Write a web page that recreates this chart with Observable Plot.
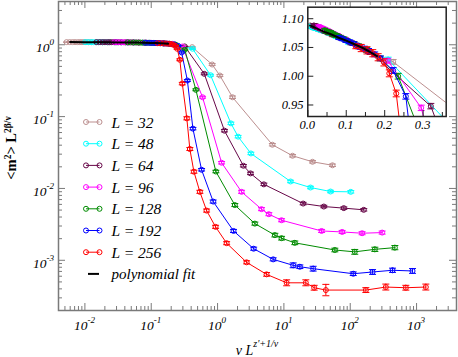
<!DOCTYPE html>
<html><head><meta charset="utf-8">
<script src="https://cdn.jsdelivr.net/npm/d3@7"></script>
<script src="https://cdn.jsdelivr.net/npm/@observablehq/plot@0.6"></script>
<style>
body{margin:0;background:#fff;}
#wrap{position:relative;width:458px;height:357px;overflow:hidden;font-family:"Liberation Serif",serif;}
#wrap svg{position:absolute;top:0;left:0;overflow:visible;}
</style></head><body><div id="wrap"></div>
<script>
// ---------- data: [x, y, relative error] ----------
const L32 = [[0.0053,1.088,0.003],[0.0059,1.088,0.003],[0.0065,1.088,0.003],[0.0071,1.088,0.003],[0.0078,1.087,0.003],[0.0084,1.087,0.003],[0.009,1.087,0.003],[0.0097,1.087,0.003],[0.0104,1.087,0.003],[0.0114,1.086,0.003],[0.0125,1.086,0.003],[0.0146,1.085,0.003],[0.016,1.085,0.003],[0.0186,1.084,0.003],[0.0228,1.083,0.003],[0.029,1.081,0.003],[0.039,1.079,0.003],[0.056,1.074,0.003],[0.11,1.058,0.003],[0.222,1.025,0.004],[0.414,0.926,0.02],[0.829,0.531,0.03],[1.083,0.373,0.03],[1.68,0.186,0.04],[6.7,0.0406,0.04],[13.5,0.0285,0.04],[27,0.0235,0.04],[54,0.021,0.04]];
const L48 = [[0.0101,1.087,0.003],[0.0112,1.087,0.003],[0.0124,1.086,0.003],[0.0135,1.086,0.003],[0.0148,1.085,0.003],[0.016,1.085,0.003],[0.0171,1.085,0.003],[0.0184,1.084,0.003],[0.0198,1.084,0.003],[0.0217,1.083,0.003],[0.0238,1.083,0.003],[0.0277,1.082,0.003],[0.0304,1.081,0.003],[0.0353,1.080,0.003],[0.0433,1.078,0.003],[0.055,1.075,0.003],[0.074,1.069,0.003],[0.106,1.059,0.003],[0.209,1.029,0.004],[0.42,0.88,0.02],[0.784,0.377,0.03],[1.59,0.0805,0.04],[2.04,0.0526,0.04],[3.18,0.0307,0.04],[12.6,0.0125,0.04],[25.2,0.0103,0.04],[50.5,0.00906,0.04],[102,0.00897,0.04]];
const L64 = [[0.015,1.088,0.003],[0.0168,1.088,0.003],[0.0185,1.087,0.003],[0.0202,1.087,0.003],[0.022,1.086,0.003],[0.0237,1.086,0.003],[0.0254,1.085,0.003],[0.0275,1.085,0.003],[0.0295,1.084,0.003],[0.0324,1.083,0.003],[0.0353,1.082,0.003],[0.0413,1.080,0.003],[0.0457,1.078,0.003],[0.0529,1.076,0.003],[0.0647,1.072,0.003],[0.082,1.067,0.003],[0.112,1.058,0.003],[0.162,1.042,0.004],[0.32,0.948,0.005],[0.63,0.394,0.03],[1.27,0.0637,0.04],[2.45,0.0207,0.04],[3.14,0.0162,0.04],[4.99,0.0114,0.04],[19.5,0.00616,0.04],[40,0.0056,0.04],[80,0.00532,0.04],[160,0.00504,0.04]];
const L96 = [[0.028,1.086,0.003],[0.031,1.085,0.003],[0.0344,1.084,0.003],[0.0376,1.083,0.003],[0.041,1.082,0.003],[0.044,1.081,0.003],[0.047,1.080,0.003],[0.051,1.079,0.003],[0.055,1.078,0.003],[0.06,1.076,0.003],[0.066,1.074,0.003],[0.077,1.071,0.003],[0.085,1.068,0.003],[0.098,1.064,0.003],[0.12,1.057,0.003],[0.152,1.046,0.004],[0.208,1.027,0.004],[0.295,0.945,0.005],[0.594,0.186,0.03],[1.15,0.0228,0.04],[2.3,0.00897,0.05],[4.6,0.00515,0.05],[5.93,0.00438,0.05],[9.22,0.00361,0.05],[37,0.00256,0.05],[75.5,0.00248,0.05],[151,0.00238,0.05],[303,0.00243,0.05]];
const L128 = [[0.044,1.080,0.003],[0.049,1.078,0.003],[0.054,1.077,0.003],[0.059,1.076,0.003],[0.064,1.074,0.003],[0.069,1.072,0.003],[0.074,1.071,0.003],[0.08,1.069,0.003],[0.086,1.067,0.003],[0.094,1.065,0.003],[0.102,1.062,0.003],[0.12,1.057,0.003],[0.132,1.053,0.003],[0.153,1.046,0.004],[0.188,1.031,0.004],[0.235,1.0,0.005],[0.321,0.852,0.02],[0.471,0.236,0.03],[0.943,0.0172,0.04],[1.82,0.00587,0.05],[3.65,0.00324,0.05],[7.31,0.00224,0.06],[9.22,0.00203,0.06],[14.6,0.00175,0.06],[58.6,0.00139,0.06],[117,0.00131,0.08],[235,0.00142,0.07],[471,0.0015,0.07]];
const L192 = [[0.081,1.067,0.003],[0.09,1.065,0.003],[0.099,1.062,0.003],[0.109,1.060,0.003],[0.118,1.057,0.003],[0.127,1.054,0.003],[0.136,1.051,0.004],[0.147,1.048,0.004],[0.158,1.044,0.004],[0.174,1.038,0.004],[0.189,1.031,0.004],[0.222,1.01,0.005],[0.255,0.965,0.005],[0.287,0.781,0.02],[0.351,0.318,0.03],[0.425,0.068,0.04],[0.574,0.0182,0.04],[0.859,0.00657,0.05],[1.74,0.00256,0.05],[3.5,0.00145,0.05],[6.89,0.00103,0.05],[13.8,0.000851,0.08],[17.4,0.000813,0.06],[27.6,0.000764,0.08],[111,0.00065,0.06],[217,0.000687,0.08],[434,0.000726,0.07],[869,0.00071,0.08]];
const L256 = [[0.125,1.052,0.004],[0.139,1.049,0.006],[0.154,1.045,0.006],[0.169,1.040,0.006],[0.183,1.033,0.006],[0.198,1.024,0.006],[0.212,1.005,0.006],[0.23,0.97,0.006],[0.246,0.88,0.02],[0.27,0.618,0.03],[0.294,0.288,0.04],[0.344,0.0946,0.05],[0.382,0.0354,0.05],[0.44,0.0171,0.05],[0.541,0.00897,0.05],[0.683,0.00492,0.05],[0.933,0.00292,0.05],[1.37,0.00173,0.05],[2.74,0.000937,0.05],[5.48,0.000637,0.06],[11,0.000486,0.1],[21.4,0.000486,0.1],[28.6,0.000415,0.08],[42.9,0.000385,0.2],[172,0.000385,0.08],[344,0.000424,0.1],[689,0.000415,0.08],[1380,0.000424,0.1]];

const sizes = [32, 48, 64, 96, 128, 192, 256];
const colors = ["#bc8f8f", "#00ffff", "#670748", "#ff00ff", "#008b00", "#0000ff", "#ff0000"];
const seriesData = [L32, L48, L64, L96, L128, L192, L256];

// polynomial fit
const fitX = [0.006, 0.01, 0.02, 0.04, 0.06, 0.08, 0.1, 0.12, 0.14, 0.16, 0.18];
const fitY = [1.088, 1.087, 1.084, 1.078, 1.073, 1.067, 1.062, 1.056, 1.050, 1.043, 1.035];

// ticks
const xMajor = [0.01, 0.1, 1, 10, 100, 1000];
const yMajor = [0.001, 0.01, 0.1, 1];
const insetXMajor = [0, 0.1, 0.2, 0.3];
const insetXMinor = [0.05, 0.15, 0.25, 0.35];
const insetYMajor = [0.95, 1.0, 1.05, 1.10];
const insetXLabels = ["0.0", "0.1", "0.2", "0.3"];
const insetYLabels = ["0.95", "1.00", "1.05", "1.10"];

// ---------- layout ----------
const W = 458, H = 357;
const mL = 58, mR = 2, mT = 1, mB = 47;
const fw = W - mL - mR, fh = H - mT - mB;
const xDomain = [0.004, 4000], yDomain = [0.0002, 4];
const axisColor = "#7a7a7a";

function minors(lo, hi) {
  const out = [];
  for (let k = -4; k <= 4; k++) for (let m = 2; m <= 9; m++) {
    const v = m * Math.pow(10, k);
    if (v >= lo && v <= hi) out.push(v);
  }
  return out;
}
const xMinor = minors(xDomain[0], xDomain[1]);
const yMinor = minors(yDomain[0], yDomain[1]);

const cap = {draw(ctx, size) { const r = Math.sqrt(size / Math.PI); ctx.moveTo(-r, 0); ctx.lineTo(r, 0); }};

function seriesMarks(clip) {
  const marks = [];
  seriesData.forEach((data, i) => {
    const c = colors[i];
    const o = {x: d => d[0], stroke: c, clip};
    marks.push(Plot.line(data, {...o, y: d => d[1], strokeWidth: 1}));
    marks.push(Plot.ruleX(data, {...o, y1: d => d[1] / (1 + d[2]), y2: d => d[1] * (1 + d[2]), strokeWidth: 1}));
    marks.push(Plot.dot(data, {...o, y: d => d[1] / (1 + d[2]), symbol: cap, r: 3.5, strokeWidth: 1}));
    marks.push(Plot.dot(data, {...o, y: d => d[1] * (1 + d[2]), symbol: cap, r: 3.5, strokeWidth: 1}));
    marks.push(Plot.dot(data, {...o, y: d => d[1], r: 2.5, fill: "none", strokeWidth: 1}));
  });
  return marks;
}
const fitData = fitX.map((x, i) => [x, fitY[i]]);

const main = Plot.plot({
  width: W, height: H, marginLeft: mL, marginRight: mR, marginTop: mT, marginBottom: mB,
  x: {type: "log", domain: xDomain, axis: null},
  y: {type: "log", domain: yDomain, axis: null},
  style: {background: "transparent", fontFamily: "Liberation Serif, serif"},
  marks: [
    Plot.tickX(xMajor, {x: d => d, insetTop: fh - 7, stroke: axisColor}),
    Plot.tickX(xMinor, {x: d => d, insetTop: fh - 4, stroke: axisColor}),
    Plot.tickX(xMajor, {x: d => d, insetBottom: fh - 7, stroke: axisColor}),
    Plot.tickX(xMinor, {x: d => d, insetBottom: fh - 4, stroke: axisColor}),
    Plot.tickY(yMajor, {y: d => d, insetRight: fw - 7, stroke: axisColor}),
    Plot.tickY(yMinor, {y: d => d, insetRight: fw - 4, stroke: axisColor}),
    Plot.tickY(yMajor, {y: d => d, insetLeft: fw - 7, stroke: axisColor}),
    Plot.tickY(yMinor, {y: d => d, insetLeft: fw - 4, stroke: axisColor}),
    ...seriesMarks(true),
    Plot.line(fitData, {x: d => d[0], y: d => d[1], stroke: "black", strokeWidth: 2}),
    Plot.frame({stroke: axisColor, strokeWidth: 1.5})
  ]
});

const iL = 270, iW = 180, iH = 135;
const inset = Plot.plot({
  width: iW, height: iH, marginLeft: 37.3, marginRight: 4.3, marginTop: 6.7, marginBottom: 19,
  x: {domain: [0, 0.36], axis: null},
  y: {domain: [0.93, 1.12], axis: null},
  style: {background: "transparent", fontFamily: "Liberation Serif, serif"},
  marks: [
    Plot.frame({fill: "white", stroke: "none"}),
    ...seriesMarks(true),
    Plot.line(fitData, {x: d => d[0], y: d => d[1], stroke: "black", strokeWidth: 2, clip: true}),
    Plot.tickX(insetXMajor, {x: d => d, insetTop: 109.3 - 6, stroke: "#222"}),
    Plot.tickX(insetXMinor, {x: d => d, insetTop: 109.3 - 4, stroke: "#222"}),
    Plot.tickY(insetYMajor, {y: d => d, insetRight: 138.4 - 6, stroke: "#222"}),
    Plot.frame({stroke: "#222", strokeWidth: 1.5})
  ]
});

const wrap = document.getElementById("wrap");
wrap.appendChild(main);
inset.style.left = iL + "px";
wrap.appendChild(inset);

// ---------- labels ----------
const ms = d3.select(main.tagName.toLowerCase() === "svg" ? main : main.querySelector("svg"));
const sx = main.scale("x"), sy = main.scale("y");
const lab = ms.append("g").attr("font-family", "Liberation Serif, serif").attr("font-style", "italic").attr("fill", "black");
xMajor.forEach(v => {
  const t = lab.append("text").attr("x", sx.apply(v)).attr("y", 330).attr("text-anchor", "middle").attr("font-size", 13.5);
  t.append("tspan").text("10");
  t.append("tspan").attr("dy", -7).attr("font-size", 9).text(String(Math.round(Math.log10(v))));
});
yMajor.forEach(v => {
  const t = lab.append("text").attr("x", 54).attr("y", sy.apply(v) + 8).attr("text-anchor", "end").attr("font-size", 13.5);
  t.append("tspan").text("10");
  t.append("tspan").attr("dy", -7).attr("font-size", 9).text(String(Math.round(Math.log10(v))));
});
// x title
{
  const t = lab.append("text").attr("x", 257).attr("y", 355).attr("text-anchor", "middle").attr("font-size", 14);
  t.append("tspan").text("ν L");
  t.append("tspan").attr("dy", -8).attr("font-size", 10).text("z'+1/ν");
}
// y title
{
  const t = ms.append("text").attr("transform", "translate(16,148) rotate(-90)").attr("text-anchor", "middle")
    .attr("font-family", "Liberation Serif, serif").attr("font-weight", "bold").attr("font-size", 14.5);
  t.append("tspan").text("<m");
  t.append("tspan").attr("dy", -5.5).attr("font-size", 9.5).text("2");
  t.append("tspan").attr("dy", 5.5).text("> L");
  t.append("tspan").attr("dy", -5.5).attr("font-size", 9.5).text("2β/ν");
}
// legend
const lg = ms.append("g").attr("text-anchor", "start");
sizes.forEach((L, i) => {
  const y = 122 + i * 21.7;
  lg.append("line").attr("x1", 86).attr("x2", 99.5).attr("y1", y).attr("y2", y).attr("stroke", colors[i]);
  [86, 99.5].forEach(x => lg.append("circle").attr("cx", x).attr("cy", y).attr("r", 2.5).attr("fill", "none").attr("stroke", colors[i]));
  lg.append("text").attr("x", 111.5).attr("y", y + 5.5).attr("text-anchor", "start").attr("font-family", "Liberation Serif, serif").attr("font-style", "italic").attr("font-size", 15.5).text("L = " + L);
});
{
  const y = 122 + 7 * 21.7;
  lg.append("line").attr("x1", 88).attr("x2", 99).attr("y1", y).attr("y2", y).attr("stroke", "black").attr("stroke-width", 2);
  lg.append("text").attr("x", 111.5).attr("y", y + 5.5).attr("text-anchor", "start").attr("font-family", "Liberation Serif, serif").attr("font-style", "italic").attr("font-size", 15).text("polynomial fit");
}

// inset labels
const is = d3.select(inset);
const ix = inset.scale("x"), iy = inset.scale("y");
const il = is.append("g").attr("font-family", "Liberation Serif, serif").attr("font-style", "italic").attr("font-size", 12.5);
insetXMajor.forEach((v, i) => il.append("text").attr("x", ix.apply(v)).attr("y", 128.5).attr("text-anchor", "middle").text(insetXLabels[i]));
insetYMajor.forEach((v, i) => il.append("text").attr("x", 33.5).attr("y", iy.apply(v) + 4.3).attr("text-anchor", "end").text(insetYLabels[i]));
</script></body></html>
